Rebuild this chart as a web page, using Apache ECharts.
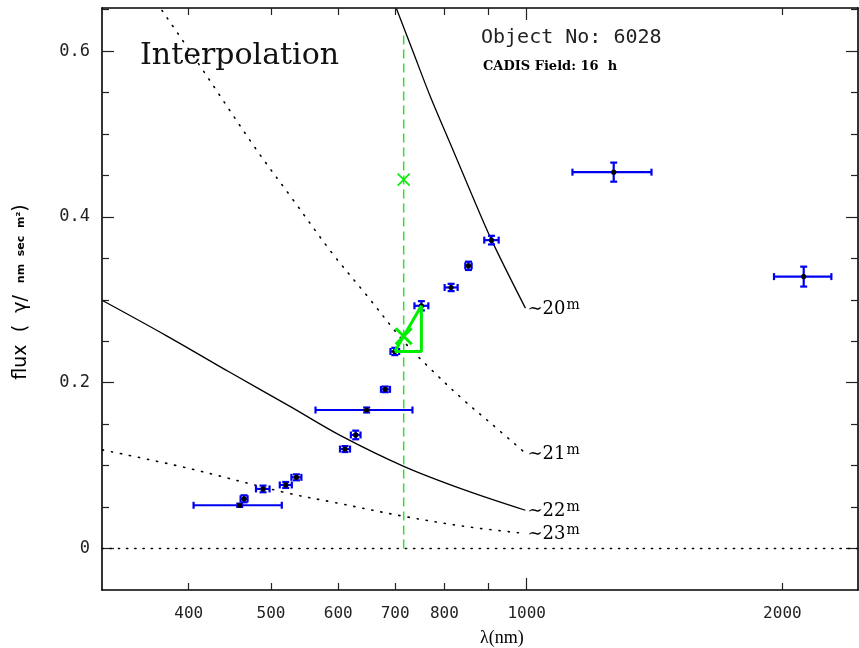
<!DOCTYPE html>
<html>
<head>
<meta charset="utf-8">
<script src="https://cdn.jsdelivr.net/npm/echarts@6/dist/echarts.min.js"></script>
<style>
  html, body { margin: 0; padding: 0; background: #fff; }
  #chart { width: 859px; height: 648px; }
</style>
</head>
<body>
<div id="chart"></div>
<script>
// ---- Photometry of object 6028 (CADIS 16 h field) ----
// central wavelength of each filter (nm), measured flux, filter extent (nm), flux error
const wavelength = [459.3, 464.8, 489.3, 520.3, 535.6, 611.0, 629.0, 648.0, 681.5, 699.4, 751.6, 814.7, 853.9, 908.9, 1266, 2119];
const flux       = [0.0522, 0.060, 0.0719, 0.0767, 0.0859, 0.120, 0.137, 0.1671, 0.192, 0.2377, 0.2928, 0.3149, 0.341, 0.372, 0.454, 0.328];
const bandLow    = [405.3, 460.4, 480.0, 512.0, 528.4, 602.8, 620.8, 564.1, 673.6, 691.2, 737.6, 800.5, 846.6, 891.3, 1132, 1955];
const bandHigh   = [514.8, 469.2, 498.0, 529.0, 542.9, 619.4, 637.3, 733.6, 690.3, 707.6, 765.9, 829.2, 861.3, 926.8, 1402.6, 2284];
const fluxErr    = [0.002, 0.0042, 0.004, 0.0036, 0.0036, 0.0036, 0.0052, 0.003, 0.0034, 0.0044, 0.0056, 0.0044, 0.005, 0.0052, 0.0115, 0.012];

// interpolation between the two neighbouring filters
const interpLambda = 716.4;
const interpFlux = 0.256;
const interpUpper = 0.445;
const interpLineTop = 0.62;
const interpLeft = 9;   // index of the filter below the interpolation wavelength
const interpRight = 10; // index of the filter above it

// constant-magnitude reference curves (wavelength nm, flux)
const mag20Lambda = [702.6, 736.2, 770.2, 813.2, 860.8, 908.9, 996.5];
const mag20Flux   = [0.651, 0.597, 0.545, 0.488, 0.428, 0.3723, 0.290];
const mag21Lambda = [372.1, 411.3, 479.3, 527.0, 590.1, 648.6, 716.4, 770.2, 843.0, 910.0, 996.5];
const mag21Flux   = [0.649, 0.584, 0.4828, 0.425, 0.3563, 0.305, 0.250, 0.2169, 0.179, 0.150, 0.115];
const mag22Lambda = [316.6, 377.2, 447.7, 527.0, 603.0, 716.4, 843.0, 996.5];
const mag22Flux   = [0.2992, 0.2563, 0.2123, 0.1712, 0.1365, 0.0992, 0.0711, 0.0462];
const mag23Lambda = [316.6, 398.2, 522.3, 592.6, 716.4, 843.0, 996.5];
const mag23Flux   = [0.119, 0.0972, 0.067, 0.0558, 0.0389, 0.0269, 0.0181];

// axes
const lambdaMin = 316.2, lambdaMax = 2455;
const fluxMin = -0.05, fluxMax = 0.652;
const xLabelValues = [400, 500, 600, 700, 800, 1000, 2000];
const xMinorTicks  = [400, 500, 600, 700, 800, 900, 2000];
const xMajorTicks  = [1000];
const yLabelValues = [0, 0.2, 0.4, 0.6];
const yMinorTicks  = [0.05, 0.1, 0.15, 0.25, 0.3, 0.35, 0.45, 0.5, 0.55, 0.65];

const L = Math.log10;
const mono = '"DejaVu Sans Mono", monospace';
const sans = '"DejaVu Sans", sans-serif';
const serif = '"DejaVu Serif", serif';

function xAxisDef(position, ticks, len, showLine, showLabels) {
  return {
    type: 'value', position, min: L(lambdaMin), max: L(lambdaMax),
    splitLine: { show: false },
    axisLine: { show: showLine, onZero: false, lineStyle: { color: '#000', width: 1.6 } },
    axisTick: { show: true, inside: true, length: len, customValues: ticks.map(L),
                lineStyle: { color: '#222', width: 1.2 } },
    axisLabel: showLabels ? {
      show: true, customValues: xLabelValues.map(L), margin: 16,
      formatter: v => String(Math.round(Math.pow(10, v))),
      fontFamily: mono, fontSize: 16, color: '#222'
    } : { show: false }
  };
}
function yAxisDef(position, ticks, len, showLine, showLabels) {
  return {
    type: 'value', position, min: fluxMin, max: fluxMax,
    splitLine: { show: false },
    axisLine: { show: showLine, onZero: false, lineStyle: { color: '#000', width: 1.6 } },
    axisTick: { show: true, inside: true, length: len, customValues: ticks,
                lineStyle: { color: '#222', width: 1.2 } },
    axisLabel: showLabels ? {
      show: true, customValues: yLabelValues, margin: 12,
      formatter: v => String(Math.round(v * 10) / 10),
      fontFamily: mono, fontSize: 17, color: '#222'
    } : { show: false }
  };
}

function curveSeries(lams, vals, dotted, label) {
  return {
    type: 'line', xAxisIndex: 0, yAxisIndex: 0,
    data: lams.map((w, i) => [L(w), vals[i]]),
    showSymbol: false, smooth: 0.35, silent: true,
    lineStyle: dotted ? { color: '#000', width: 1.6, type: [1.2, 8], cap: 'round' }
                      : { color: '#000', width: 1.3 },
    endLabel: {
      show: true, distance: 2,
      formatter: '{t|\u223C' + label + '}{s|m}',
      rich: {
        t: { fontFamily: serif, fontSize: 18, color: '#000', verticalAlign: 'bottom' },
        s: { fontFamily: serif, fontSize: 14, color: '#000', verticalAlign: 'top', padding: [0, 0, 6, 1] }
      }
    },
    z: 2
  };
}

function errorBarRender(params, api) {
  const c = api.coord([api.value(0), api.value(1)]);
  const lo = api.coord([api.value(2), api.value(1)]);
  const hi = api.coord([api.value(3), api.value(1)]);
  const top = api.coord([api.value(0), api.value(1) + api.value(4)]);
  const bot = api.coord([api.value(0), api.value(1) - api.value(4)]);
  const cap = 3.5;
  const st = { stroke: '#0000f0', lineWidth: 2.2 };
  const ln = (x1, y1, x2, y2) => ({ type: 'line', shape: { x1, y1, x2, y2 }, style: st });
  return {
    type: 'group',
    children: [
      ln(lo[0], c[1], hi[0], c[1]),
      ln(lo[0], c[1] - cap, lo[0], c[1] + cap),
      ln(hi[0], c[1] - cap, hi[0], c[1] + cap),
      ln(c[0], top[1], c[0], bot[1]),
      ln(c[0] - cap, top[1], c[0] + cap, top[1]),
      ln(c[0] - cap, bot[1], c[0] + cap, bot[1]),
      { type: 'circle', shape: { cx: c[0], cy: c[1], r: 2.6 }, style: { fill: '#000' } }
    ]
  };
}

// cross markers: interpolated flux (large) and the upper estimate (small)
const crossStyles = [{ half: 8, width: 3 }, { half: 6, width: 1.6 }];
function crossRender(params, api) {
  const p = api.coord([api.value(0), api.value(1)]);
  const s = crossStyles[params.dataIndex];
  const st = { stroke: '#00ee00', lineWidth: s.width };
  return {
    type: 'group',
    children: [
      { type: 'line', shape: { x1: p[0] - s.half, y1: p[1] - s.half, x2: p[0] + s.half, y2: p[1] + s.half }, style: st },
      { type: 'line', shape: { x1: p[0] - s.half, y1: p[1] + s.half, x2: p[0] + s.half, y2: p[1] - s.half }, style: st }
    ]
  };
}

const chart = echarts.init(document.getElementById('chart'), null, { renderer: 'canvas' });
chart.setOption({
  animation: false,
  backgroundColor: '#fff',
  grid: { left: 102, right: 1, top: 8, bottom: 58 },
  xAxis: [
    xAxisDef('bottom', xMinorTicks, 7, true, true),
    xAxisDef('bottom', xMajorTicks, 12, false, false),
    xAxisDef('top', xMinorTicks, 7, true, false),
    xAxisDef('top', xMajorTicks, 12, false, false)
  ],
  yAxis: [
    yAxisDef('left', yLabelValues, 12, true, true),
    yAxisDef('left', yMinorTicks, 7, false, false),
    yAxisDef('right', yLabelValues, 12, true, false),
    yAxisDef('right', yMinorTicks, 7, false, false)
  ],
  series: [
    {
      // zero-flux reference
      type: 'line', data: [[L(lambdaMin), 0], [L(lambdaMax), 0]],
      showSymbol: false, silent: true,
      lineStyle: { color: '#000', width: 1.6, type: [1.2, 7], cap: 'round' }
    },
    curveSeries(mag20Lambda, mag20Flux, false, '20'),
    curveSeries(mag21Lambda, mag21Flux, true, '21'),
    curveSeries(mag22Lambda, mag22Flux, false, '22'),
    curveSeries(mag23Lambda, mag23Flux, true, '23'),
    {
      // interpolation wavelength
      type: 'line', data: [[L(interpLambda), 0], [L(interpLambda), interpLineTop]],
      showSymbol: false, silent: true,
      lineStyle: { color: '#33dd33', width: 1.5, type: [9, 5] }, z: 3
    },
    {
      type: 'custom', renderItem: errorBarRender, silent: true, z: 4,
      data: wavelength.map((w, i) => [L(w), flux[i], L(bandLow[i]), L(bandHigh[i]), fluxErr[i]])
    },
    {
      // interpolation triangle between the neighbouring filters
      type: 'line', showSymbol: false, silent: true, z: 5,
      data: [
        [L(wavelength[interpLeft]), flux[interpLeft]],
        [L(wavelength[interpRight]), flux[interpRight]],
        [L(wavelength[interpRight]), flux[interpLeft]],
        [L(wavelength[interpLeft]), flux[interpLeft]]
      ],
      lineStyle: { color: '#00ee00', width: 3 }
    },
    {
      type: 'custom', renderItem: crossRender, silent: true, z: 6,
      data: [[L(interpLambda), interpFlux], [L(interpLambda), interpUpper]]
    }
  ],
  graphic: [
    { type: 'text', left: 140, top: 41, style: { text: 'Interpolation', font: '30px ' + serif, fill: '#111' } },
    { type: 'text', left: 481, top: 28, style: { text: 'Object No: 6028', font: '20px ' + mono, fill: '#222' } },
    { type: 'text', left: 483, top: 60, style: { text: 'CADIS Field: 16  h', font: 'bold 13px ' + serif, fill: '#000' } },
    { type: 'text', left: 480, top: 629, style: { text: '\u03BB(nm)', font: '18px "Liberation Serif", serif', fill: '#000' } },
    {
      type: 'text', x: 21, y: 292, rotation: Math.PI / 2,
      style: {
        text: '{a|flux  (  \u03B3/  }{b|nm  sec  m\u00B2}{a|)}',
        align: 'center', verticalAlign: 'middle',
        rich: {
          a: { fontFamily: sans, fontSize: 19, fill: '#000' },
          b: { fontFamily: sans, fontSize: 11, fontWeight: 'bold', fill: '#000' }
        }
      }
    }
  ]
});
</script>
</body>
</html>
